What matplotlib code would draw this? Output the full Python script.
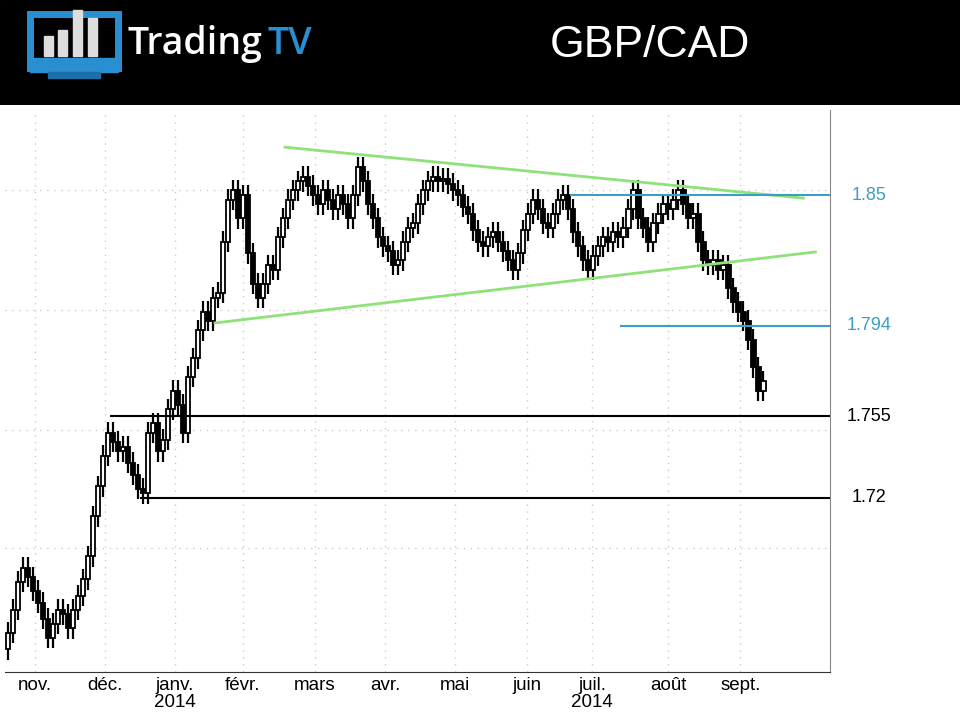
import matplotlib
matplotlib.use("Agg")
import matplotlib.pyplot as plt
from matplotlib.patches import Rectangle

closes = [
1.662,1.672,1.684,1.690,1.686,1.680,1.675,1.668,1.660,
1.666,1.672,1.670,1.664,1.672,1.678,1.685,1.695,1.712,
1.725,1.738,1.748,1.744,1.740,1.742,1.735,1.730,1.724,
1.722,1.748,1.752,1.740,1.745,1.758,1.766,1.760,1.748,
1.772,1.780,1.792,1.800,1.796,1.806,1.808,1.830,1.848,
1.852,1.840,1.850,1.825,1.812,1.806,1.812,1.820,1.818,
1.832,1.840,1.848,1.852,1.856,1.858,1.854,1.850,1.846,
1.852,1.848,1.844,1.850,1.846,1.840,1.850,1.862,1.856,
1.846,1.840,1.832,1.828,1.826,1.820,1.822,1.830,1.836,
1.838,1.846,1.852,1.856,1.858,1.856,1.857,1.855,1.852,
1.850,1.845,1.842,1.835,1.830,1.828,1.832,1.834,1.830,
1.826,1.822,1.818,1.825,1.835,1.842,1.848,1.844,1.838,
1.836,1.842,1.848,1.850,1.844,1.834,1.828,1.822,1.818,
1.824,1.828,1.832,1.830,1.834,1.832,1.836,1.844,1.852,
1.840,1.836,1.830,1.838,1.842,1.846,1.844,1.848,1.852,
1.846,1.840,1.842,1.830,1.822,1.820,1.822,1.818,1.820,
1.810,1.804,1.800,1.796,1.788,1.776,1.766,1.770]
first_open = 1.655
month_labels = ["nov.", "déc.", "janv.", "févr.", "mars", "avr.", "mai", "juin", "juil.", "août", "sept."]
month_pos = [5.4, 19.4, 33.4, 47, 61.4, 75.4, 89.4, 103.8, 116.8, 132, 146.4]
year_labels = ["2014", "2014"]
year_pos = [33.4, 116.8]
levels = [1.85, 1.794, 1.755, 1.72]
level_start = [112.4, 122.4, 20.4, 26.4]
level_colors = ["#3a9fc4", "#3a9fc4", "black", "black"]
level_texts = ["1.85", "1.794", "1.755", "1.72"]
trend_x = [(55.4, 159.0), (41.4, 161.4)]
trend_y = [(1.8706, 1.8487), (1.7951, 1.8256)]
grid_y = [1.852, 1.8007, 1.749, 1.6985]

fig = plt.figure(figsize=(9.6, 7.2), dpi=100)
fig.patch.set_facecolor("white")
ax = fig.add_axes([0.005, 0.067, 0.86, 0.78])
xmin, xmax = -0.6, 164.4
ax.set_xlim(xmin, xmax)
ax.set_ylim(1.6453, 1.8865)

for g in grid_y:
    ax.axhline(g, color="#cccccc", ls=(0, (1, 4)), lw=1, zorder=0)
for p in month_pos:
    ax.axvline(p, color="#cccccc", ls=(0, (1, 4)), lw=1, zorder=0)

wick = 0.0045
prev = first_open
for i, c in enumerate(closes):
    o = prev
    lo, hi = min(o, c), max(o, c)
    ax.vlines(i, lo - wick, hi + wick, color="black", lw=1.6, zorder=3)
    up = c >= o
    ax.add_patch(Rectangle((i - 0.45, lo), 0.9, max(hi - lo, 0.0008),
                           facecolor="white" if up else "black",
                           edgecolor="black", lw=1.3, zorder=4))
    prev = c

for (x0, x1), (y0, y1) in zip(trend_x, trend_y):
    ax.plot([x0, x1], [y0, y1], color="#8ee27a", lw=2, zorder=5)
for lv, xs, col, t in zip(levels, level_start, level_colors, level_texts):
    ax.hlines(lv, xs, xmax, color=col, lw=1.5, zorder=5)
    fig.text(0.905, ax.transData.transform((0, lv))[1] / 720, t, color=col,
             fontsize=13, ha="center", va="center", family="Liberation Sans")

ax.set_xticks(month_pos)
ax.set_xticklabels(month_labels, fontsize=13.5, family="Liberation Sans")
ax.tick_params(axis="x", length=0, pad=4)
ax.set_yticks([])
for yp, yl in zip(year_pos, year_labels):
    ax.text(yp, -0.055, yl, transform=ax.get_xaxis_transform(), ha="center", va="center",
            fontsize=13.5, family="Liberation Sans")
for s in ["top", "left"]:
    ax.spines[s].set_visible(False)
ax.spines["bottom"].set_color("#333333")
ax.spines["right"].set_color("#888888")

# header
hdr = fig.add_axes([0, 0.854, 1, 0.146])
hdr.set_xlim(0, 960); hdr.set_ylim(105, 0)
hdr.set_facecolor("black"); hdr.axis("off")
hdr.add_patch(Rectangle((0, 0), 960, 105, color="black"))
hdr.add_patch(Rectangle((30, 14), 88, 54, facecolor="none", edgecolor="#2a8fd0", lw=5))
hdr.add_patch(Rectangle((30, 58), 88, 14, color="#2a8fd0"))
hdr.add_patch(Rectangle((48, 72), 52, 6, color="#1c6fa8"))
for bx, bh in [(44, 20), (58, 26), (73, 46), (88, 38)]:
    hdr.add_patch(Rectangle((bx, 56 - bh), 9, bh, color="#dddddd"))
hdr.text(128, 44, "Trading", color="white", fontsize=27, fontweight="semibold",
         va="center", family="Open Sans")
hdr.text(268, 44, "TV", color="#2a8fd0", fontsize=27, fontweight="semibold",
         va="center", family="Open Sans")
hdr.text(650, 45, "GBP/CAD", color="white", fontsize=32, va="center", ha="center",
         family="Liberation Sans")

fig.savefig("out.png", dpi=100)
